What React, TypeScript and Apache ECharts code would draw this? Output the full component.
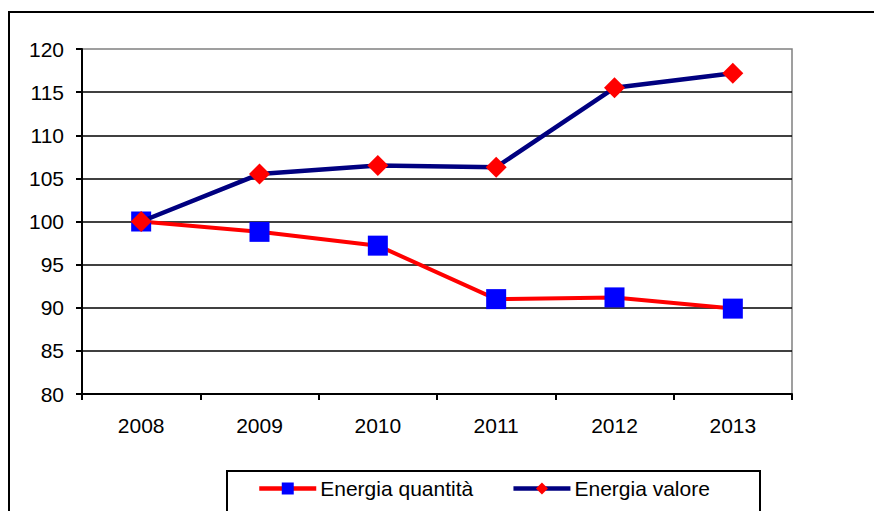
import React, { useEffect, useRef } from "react";
import * as echarts from "echarts";

const years = ["2008", "2009", "2010", "2011", "2012", "2013"];
const quantita = [100, 98.8, 97.2, 91.0, 91.2, 89.9];
const valore = [100, 105.5, 106.5, 106.3, 115.5, 117.2];
const seriesNames = ["Energia quantità", "Energia valore"];

export default function App() {
  const ref = useRef<HTMLDivElement>(null);
  useEffect(() => {
    if (!ref.current) return;
    document.body.style.margin = "0";
    document.body.style.overflow = "hidden";
    const chart = echarts.init(ref.current, null, { renderer: "svg" });
    const font = "Liberation Sans, Arial, sans-serif";
    chart.setOption({
      animation: false,
      textStyle: { fontFamily: font },
      grid: {
        left: 82,
        top: 49,
        right: 82,
        bottom: 117,
        show: true,
        borderColor: "#808080",
        borderWidth: 1.5,
        containLabel: false,
      },
      graphic: [
        {
          type: "rect",
          shape: { x: 9, y: 12, width: 950, height: 600 },
          style: { fill: "none", stroke: "#000", lineWidth: 2 },
          z: 0,
        },
        {
          type: "rect",
          shape: { x: 227, y: 471, width: 533, height: 80 },
          style: { fill: "none", stroke: "#000", lineWidth: 2 },
          z: 0,
        },
      ],
      legend: {
        data: seriesNames,
        left: 252,
        top: 478,
        padding: [0, 0, 0, 5],
        itemWidth: 57,
        itemHeight: 15,
        itemGap: 38,
        lineStyle: { width: 4.5 },
        textStyle: { fontSize: 21, color: "#000", fontFamily: font, padding: [0, 0, 0, -1] },
      },
      xAxis: {
        type: "category",
        data: years,
        boundaryGap: true,
        axisLine: { lineStyle: { color: "#000", width: 2 } },
        axisTick: { show: true, inside: false, length: 6, alignWithLabel: false, lineStyle: { color: "#000", width: 2 } },
        axisLabel: { color: "#000", fontSize: 21, margin: 21, fontFamily: font },
        splitLine: { show: false },
      },
      yAxis: {
        type: "value",
        min: 80,
        max: 120,
        interval: 5,
        axisLine: { show: true, lineStyle: { color: "#000", width: 2 } },
        axisTick: { show: true, inside: false, length: 6, lineStyle: { color: "#000", width: 2 } },
        axisLabel: { color: "#000", fontSize: 21, margin: 18, fontFamily: font },
        splitLine: {
          show: true,
          showMaxLine: false,
          lineStyle: { color: "#000", width: 1.5 },
        },
      },
      series: [
        {
          name: seriesNames[0],
          type: "line",
          data: quantita,
          symbol: "rect",
          symbolSize: 20,
          lineStyle: { color: "#FF0000", width: 4 },
          itemStyle: { color: "#0000FF" },
          z: 2,
        },
        {
          name: seriesNames[1],
          type: "line",
          data: valore,
          symbol: "diamond",
          symbolSize: 21,
          lineStyle: { color: "#000080", width: 4.5 },
          itemStyle: { color: "#FF0000" },
          z: 3,
        },
      ],
    });
    return () => chart.dispose();
  }, []);
  return <div ref={ref} style={{ position: "absolute", left: 0, top: 0, width: 874, height: 511 }} />;
}
